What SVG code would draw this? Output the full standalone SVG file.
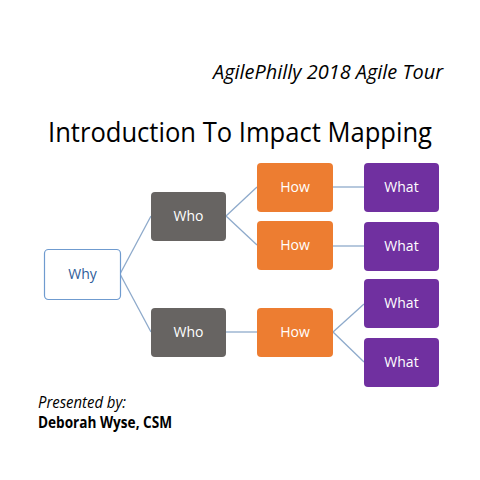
<svg xmlns="http://www.w3.org/2000/svg" width="480" height="480" viewBox="0 0 480 480">
<style>
.t{font-family:"Open Sans","Liberation Sans",sans-serif;}
.lbl{font-family:"Open Sans","Liberation Sans",sans-serif;font-size:14px;text-anchor:middle;fill:#ffffff;}
.c line{stroke:#8eaacb;stroke-width:1.3;}
</style>
<rect width="480" height="480" fill="#ffffff"/>
<text class="t" x="443" y="79" font-size="20" font-style="italic" text-anchor="end" textLength="230" lengthAdjust="spacingAndGlyphs">AgilePhilly 2018 Agile Tour</text>
<text class="t" x="48" y="142" font-size="27" textLength="384" lengthAdjust="spacingAndGlyphs">Introduction To Impact Mapping</text>
<g class="c" id="connectors">
<line x1="120" y1="274" x2="151" y2="216"/>
<line x1="120" y1="274" x2="151" y2="332"/>
<line x1="226" y1="216" x2="257" y2="187"/>
<line x1="226" y1="216" x2="257" y2="245"/>
<line x1="226" y1="332" x2="257" y2="332"/>
<line x1="333" y1="187" x2="364" y2="187"/>
<line x1="333" y1="246" x2="364" y2="246"/>
<line x1="333" y1="332" x2="364" y2="304"/>
<line x1="333" y1="332" x2="364" y2="362"/>
</g>
<g id="why"><rect x="44.5" y="249.5" width="76" height="50" rx="4" fill="#ffffff" stroke="#6f9bcf" stroke-width="1.2"/><text class="lbl" x="82.5" y="279" style="fill:#2f5d9a">Why</text></g>
<g id="who1"><rect x="151" y="192" width="75" height="49" rx="4" fill="#676462"/><text class="lbl" x="188.5" y="221">Who</text></g>
<g id="who2"><rect x="151" y="308" width="75" height="49" rx="4" fill="#676462"/><text class="lbl" x="188.5" y="337">Who</text></g>
<g id="how1"><rect x="257" y="163" width="76" height="49" rx="4" fill="#ed7d31"/><text class="lbl" x="295" y="192">How</text></g>
<g id="how2"><rect x="257" y="221" width="76" height="49" rx="4" fill="#ed7d31"/><text class="lbl" x="295" y="250">How</text></g>
<g id="how3"><rect x="257" y="308" width="76" height="49" rx="4" fill="#ed7d31"/><text class="lbl" x="295" y="337">How</text></g>
<g id="what1"><rect x="364" y="163" width="75" height="49" rx="4" fill="#7030a0"/><text class="lbl" x="401.5" y="192">What</text></g>
<g id="what2"><rect x="364" y="222" width="75" height="49" rx="4" fill="#7030a0"/><text class="lbl" x="401.5" y="251">What</text></g>
<g id="what3"><rect x="364" y="279" width="75" height="49" rx="4" fill="#7030a0"/><text class="lbl" x="401.5" y="308">What</text></g>
<g id="what4"><rect x="364" y="338" width="75" height="49" rx="4" fill="#7030a0"/><text class="lbl" x="401.5" y="367">What</text></g>
<text class="t" x="38" y="408" font-size="16" font-style="italic" textLength="88" lengthAdjust="spacingAndGlyphs">Presented by:</text>
<text class="t" x="38" y="428" font-size="16" font-weight="bold" textLength="134" lengthAdjust="spacingAndGlyphs">Deborah Wyse, CSM</text>
</svg>
